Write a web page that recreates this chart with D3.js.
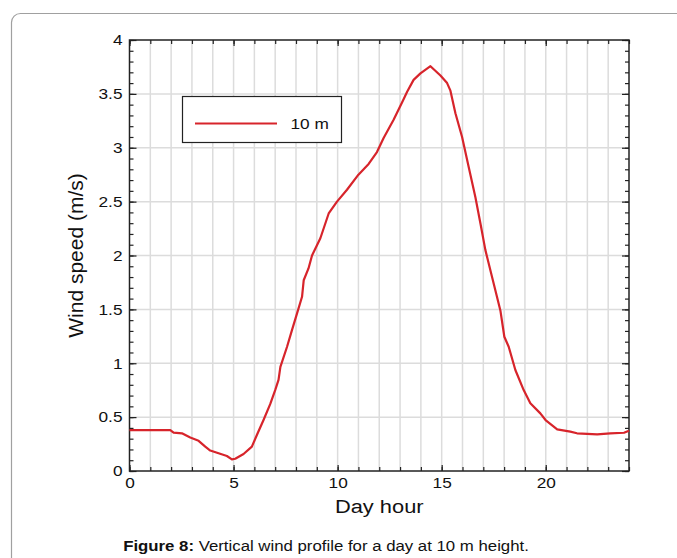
<!DOCTYPE html>
<html>
<head>
<meta charset="utf-8">
<script src="https://cdn.jsdelivr.net/npm/d3@7"></script>
<style>
  body { margin: 0; background: #fff; }
  svg { display: block; font-family: "Liberation Sans", Arial, sans-serif; }
</style>
</head>
<body>
<svg id="chart" width="677" height="558"></svg>
<script>
// Data
const hours = [0, 1, 1.96, 2.12, 2.52, 2.92, 3.32, 3.64, 3.88, 4.28, 4.68, 4.92, 5.08, 5.48, 5.88, 6.12, 6.44, 6.76,
  7.0, 7.16, 7.25, 7.57, 7.81, 8.05, 8.29, 8.37, 8.6, 8.77, 9.17, 9.57, 9.97, 10.45, 11.0, 11.49, 11.89, 12.21, 12.69,
  13.17, 13.34, 13.65, 13.98, 14.46, 14.94, 15.26, 15.42, 15.66, 15.98, 16.3, 16.62, 16.86, 17.1, 17.42, 17.82, 18.01,
  18.22, 18.54, 18.94, 19.26, 19.74, 19.99, 20.55, 21.18, 21.5, 22.47, 23.1, 23.76, 24.0];
const speeds = [0.38, 0.38, 0.38, 0.356, 0.35, 0.31, 0.28, 0.226, 0.19, 0.164, 0.139, 0.108, 0.114, 0.158, 0.226, 0.334,
  0.473, 0.62, 0.75, 0.845, 0.967, 1.153, 1.31, 1.463, 1.617, 1.77, 1.88, 2.0, 2.16, 2.39, 2.5, 2.61, 2.75, 2.85, 2.96,
  3.09, 3.26, 3.45, 3.52, 3.63, 3.69, 3.757, 3.67, 3.6, 3.53, 3.32, 3.1, 2.82, 2.54, 2.3, 2.05, 1.8, 1.49, 1.246, 1.153,
  0.937, 0.751, 0.628, 0.535, 0.473, 0.387, 0.365, 0.35, 0.34, 0.35, 0.355, 0.374];
const xTicks = [0, 5, 10, 15, 20];
const yTicks = [0, 0.5, 1, 1.5, 2, 2.5, 3, 3.5, 4];
const seriesName = "10 m";

const COLORS = {
  line: "#d7242b",
  grid: "#dcdcdc",
  axis: "#222",
  frame: "#a0a0a0",
};

// the source figure is a little stretched sideways
const STRETCH = 1.15;

const plot = { left: 129.5, right: 629, top: 40, bottom: 471 };

const svg = d3.select("#chart");

// outer rounded frame
svg.append("rect")
  .attr("x", 11.5).attr("y", 13.5)
  .attr("width", 720).attr("height", 620)
  .attr("rx", 9)
  .attr("fill", "none")
  .attr("stroke", COLORS.frame)
  .attr("stroke-width", 1.2);

const x = d3.scaleLinear().domain([0, 24]).range([plot.left, plot.right]);
const y = d3.scaleLinear().domain([0, 4]).range([plot.bottom, plot.top]);

// grid
svg.append("g")
  .selectAll("line")
  .data(d3.range(1, 24))
  .join("line")
  .attr("x1", (d) => x(d)).attr("x2", (d) => x(d))
  .attr("y1", plot.top).attr("y2", plot.bottom)
  .attr("stroke", COLORS.grid)
  .attr("stroke-width", 1.5);

svg.append("g")
  .selectAll("line")
  .data(yTicks.slice(1, -1))
  .join("line")
  .attr("x1", plot.left).attr("x2", plot.right)
  .attr("y1", (d) => y(d)).attr("y2", (d) => y(d))
  .attr("stroke", COLORS.grid)
  .attr("stroke-width", 1.5);

// axes with inward ticks
const minorY = d3.range(0, 41).map((d) => d / 10);
const minorX = d3.range(0, 25);

function styleAxis(g) {
  g.select(".domain").remove();
  g.selectAll(".tick line").attr("stroke", COLORS.axis).attr("stroke-width", 1.2);
}

// widen tick labels sideways, keeping their anchor point
function stretchLabels(g) {
  g.selectAll("text")
    .attr("fill", "#111")
    .style("font-size", "15px")
    .each(function () {
      const t = d3.select(this);
      const tx = +t.attr("x") || 0;
      t.attr("x", tx / STRETCH).attr("transform", `scale(${STRETCH},1)`);
    });
}

svg.append("g")
  .attr("transform", `translate(0,${plot.bottom})`)
  .call(d3.axisBottom(x).tickValues(minorX).tickSize(-4).tickFormat(""))
  .call(styleAxis);
svg.append("g")
  .attr("transform", `translate(0,${plot.bottom})`)
  .call(d3.axisBottom(x).tickValues(xTicks).tickSize(-6).tickPadding(6).tickFormat(d3.format("d")))
  .call(styleAxis)
  .call(stretchLabels);
svg.append("g")
  .attr("transform", `translate(0,${plot.top})`)
  .call(d3.axisTop(x).tickValues(minorX).tickSize(-4).tickFormat(""))
  .call(styleAxis);
svg.append("g")
  .attr("transform", `translate(0,${plot.top})`)
  .call(d3.axisTop(x).tickValues(xTicks).tickSize(-6).tickFormat(""))
  .call(styleAxis);

svg.append("g")
  .attr("transform", `translate(${plot.left},0)`)
  .call(d3.axisLeft(y).tickValues(minorY).tickSize(-4).tickFormat(""))
  .call(styleAxis);
svg.append("g")
  .attr("transform", `translate(${plot.left},0)`)
  .call(d3.axisLeft(y).tickValues(yTicks).tickSize(-7).tickPadding(7).tickFormat(d3.format("")))
  .call(styleAxis)
  .call(stretchLabels);
svg.append("g")
  .attr("transform", `translate(${plot.right},0)`)
  .call(d3.axisRight(y).tickValues(minorY).tickSize(-4).tickFormat(""))
  .call(styleAxis);
svg.append("g")
  .attr("transform", `translate(${plot.right},0)`)
  .call(d3.axisRight(y).tickValues(yTicks).tickSize(-7).tickFormat(""))
  .call(styleAxis);

// plot border
svg.append("rect")
  .attr("x", plot.left).attr("y", plot.top)
  .attr("width", plot.right - plot.left).attr("height", plot.bottom - plot.top)
  .attr("fill", "none")
  .attr("stroke", COLORS.axis)
  .attr("stroke-width", 1.5);

// series
const points = hours.map((h, i) => [h, speeds[i]]);
svg.append("path")
  .datum(points)
  .attr("fill", "none")
  .attr("stroke", COLORS.line)
  .attr("stroke-width", 2.2)
  .attr("stroke-linejoin", "round")
  .attr("d", d3.line().x((d) => x(d[0])).y((d) => y(d[1])));

// legend
const legend = svg.append("g").attr("transform", "translate(182.5,96.5)");
legend.append("rect")
  .attr("width", 159).attr("height", 46)
  .attr("fill", "#fff")
  .attr("stroke", "#222")
  .attr("stroke-width", 1.2);
legend.append("line")
  .attr("x1", 12.5).attr("x2", 94.5)
  .attr("y1", 27).attr("y2", 27)
  .attr("stroke", COLORS.line)
  .attr("stroke-width", 2.2);
legend.append("text")
  .attr("transform", `translate(108,32.5) scale(${STRETCH},1)`)
  .style("font-size", "15px")
  .attr("fill", "#111")
  .text(seriesName);

// axis titles
svg.append("text")
  .attr("transform", `translate(${(plot.left + plot.right) / 2},513) scale(${STRETCH},1)`)
  .attr("text-anchor", "middle")
  .style("font-size", "19px")
  .attr("fill", "#111")
  .text("Day hour");

svg.append("text")
  .attr("transform", `translate(83,${(plot.top + plot.bottom) / 2}) rotate(-90)`)
  .attr("text-anchor", "middle")
  .style("font-size", "21px")
  .attr("fill", "#111")
  .text("Wind speed (m/s)");

// caption
const caption = svg.append("text")
  .attr("transform", `translate(326,551) scale(1.12,1)`)
  .attr("text-anchor", "middle")
  .style("font-size", "15px")
  .attr("fill", "#111");
caption.append("tspan").attr("font-weight", "bold").text("Figure 8:");
caption.append("tspan").text(" Vertical wind profile for a day at 10 m height.");
</script>
</body>
</html>
